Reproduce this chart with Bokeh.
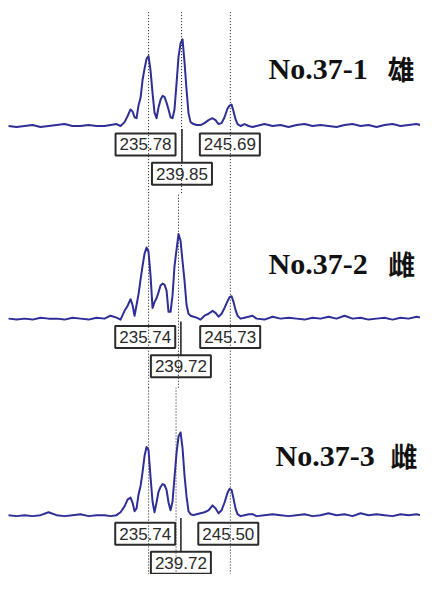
from bokeh.plotting import figure
from bokeh.models import Range1d
from bokeh.core.properties import value
from bokeh.embed import file_html
from bokeh.resources import INLINE

# ---- data (fragment size in bp, relative signal height) ----
bp = [218.70, 219.68, 220.65, 221.63, 222.60, 223.58, 224.55, 225.53, 226.50, 227.48,
      228.46, 229.43, 230.41, 231.14, 231.87, 232.36, 232.85, 233.21, 233.58, 233.82,
      234.07, 234.31, 234.55, 234.80, 235.04, 235.29, 235.53, 235.77, 236.02, 236.26,
      236.50, 236.75, 236.99, 237.24, 237.48, 237.72, 237.97, 238.21, 238.46, 238.70,
      238.94, 239.19, 239.43, 239.68, 239.92, 240.16, 240.41, 240.65, 240.90, 241.26,
      241.63, 242.11, 242.60, 243.09, 243.58, 243.94, 244.31, 244.68, 245.04, 245.41,
      245.65, 245.90, 246.14, 246.38, 246.63, 246.99, 247.48, 247.97, 248.46, 248.94,
      249.92, 250.90, 251.87, 252.85, 253.82, 254.80, 255.77, 256.75, 257.72, 258.70,
      259.68, 260.65, 261.63, 262.60, 263.58, 264.55, 265.53, 266.50, 267.48, 268.46,
      269.43, 269.92]

signal_1 = [1, 0, 1, 2, 0, 1, 2, 3, 1, 1,
            2, 1, 1, 2, 3, 1, 5, 11, 18, 16,
            10, 9, 22, 30, 48, 60, 70, 73, 58, 35,
            15, 9, 20, 28, 32, 31, 25, 18, 10, 9,
            18, 45, 72, 86, 90, 67, 38, 14, 5, 3,
            2, 2, 4, 7, 9, 7, 3, 4, 10, 19,
            22, 23, 16, 8, 3, 1, 3, 1, 0, 1,
            3, 1, 2, 0, 2, 3, 1, 2, 1, 0,
            2, 3, 1, 2, 0, 2, 3, 1, 2, 3,
            1, 2]

signal_2 = [1, 0, 1, 0, 2, 1, 1, 0, 2, 1,
            0, 2, 1, 4, 2, 0, 9, 14, 21, 15,
            4, 15, 26, 41, 55, 68, 74, 70, 45, 12,
            18, 22, 28, 35, 37, 36, 30, 8, 8, 25,
            55, 72, 88, 81, 60, 40, 15, 6, 4, 3,
            2, 0, 4, 6, 9, 7, 3, 6, 12, 19,
            23, 24, 18, 10, 4, 1, 2, 3, 4, 1,
            0, 3, 1, 2, 1, 0, 2, 1, 3, 1,
            4, 1, 2, 0, 1, 2, 0, 2, 1, 3,
            1, 2]

signal_3 = [1, 0, 1, 0, 1, 4, 1, 0, 1, 2,
            0, 1, 1, 0, 1, 4, 10, 17, 19, 14,
            5, 8, 22, 31, 45, 62, 71, 68, 40, 15,
            4, 14, 25, 30, 33, 32, 27, 14, 6, 15,
            40, 65, 82, 86, 70, 42, 20, 5, 2, 1,
            2, 3, 4, 6, 11, 8, 3, 6, 14, 24,
            28, 27, 18, 8, 2, 0, 1, 2, 2, 0,
            1, 2, 1, 0, 1, 2, 0, 1, 3, 1,
            2, 0, 3, 1, 2, 1, 0, 2, 1, 2,
            0, 1]

sample_ids = ["No.37-1", "No.37-2", "No.37-3"]
sexes = ["雄", "雌", "雌"]
peak_sizes = [[235.78, 239.85, 245.69],
              [235.74, 239.72, 245.73],
              [235.74, 239.72, 245.50]]
cursor_bp = [[235.78, 239.80, 245.75],
             [235.78, 239.43, 245.75],
             [235.78, 239.13, 245.75]]

signals = [signal_1, signal_2, signal_3]

# ---- layout (not data) ----
baselines = [460, 262, 60]
panel_top = [578, 392, 192]
panel_bot = [392, 192, 0]
title_x = [250.41, 250.41, 251.26]
sex_x = [264.92, 265.0, 265.28]
title_y = [520, 320, 122]
left_box_shift = -0.37

p = figure(width=420, height=574, output_backend="svg", toolbar_location=None,
           x_range=Range1d(217.72, 268.94), y_range=Range1d(0, 590),
           min_border=0)
p.axis.visible = False
p.grid.visible = False
p.outline_line_color = None
p.background_fill_color = "white"
p.border_fill_color = "white"

trace_color = "#2e2e96"
box_color = "#2b2b2b"

for i in range(3):
    b = baselines[i]
    ys = [b + h for h in signals[i]]
    # cursor lines
    for cx in cursor_bp[i]:
        p.segment(x0=[cx], y0=[panel_bot[i]], x1=[cx], y1=[panel_top[i]],
                  line_color="#111111", line_width=1.0, line_dash="1 2")
    # trace
    p.line(bp, ys, line_color=trace_color, line_width=2.0, line_join="round")

    # labels
    s0, s1, s2 = peak_sizes[i]
    upper_y = b - 18
    lower_y = b - 48
    box_x = [s0 + left_box_shift, s2, s1]
    box_y = [upper_y, upper_y, lower_y]
    box_t = [f"{s0:.2f}", f"{s2:.2f}", f"{s1:.2f}"]
    # tick from lower box to trace
    p.segment(x0=[s1], y0=[b - 2], x1=[s1], y1=[lower_y + 11],
              line_color=box_color, line_width=1.6)
    p.rect(x=box_x, y=box_y, width=60, height=22, width_units="screen",
           height_units="screen", fill_color=None, line_color=box_color,
           line_width=2.0)
    p.text(x=box_x, y=box_y, text=box_t, text_align="center",
           text_baseline="middle", text_font=value("Liberation Sans"),
           text_font_size="17px", text_color="#2a2a2a")

    # titles
    p.text(x=[title_x[i]], y=[title_y[i]], text=[sample_ids[i]],
           text_align="left", text_baseline="alphabetic",
           text_font=value("Liberation Serif"), text_font_style="bold",
           text_font_size="30px", text_color="#111111")
    p.text(x=[sex_x[i]], y=[title_y[i]], text=[sexes[i]],
           text_align="left", text_baseline="alphabetic",
           text_font=value("Noto Sans CJK SC"), text_font_style="bold",
           text_font_size="27px", text_color="#111111")

open("out.html", "w").write(file_html(p, INLINE))
